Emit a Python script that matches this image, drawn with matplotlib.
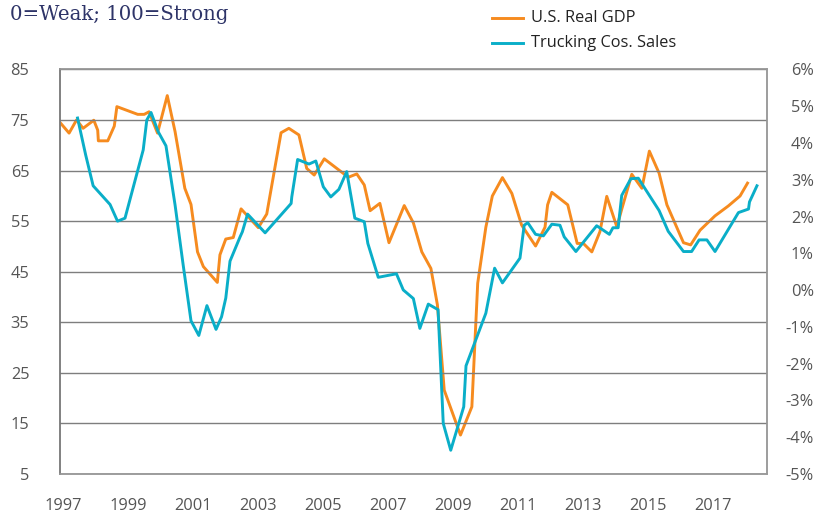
import matplotlib.pyplot as plt
from matplotlib.ticker import FuncFormatter

# U.S. real GDP, y/y % (right axis)
gdp_dates = [1996.91, 1997.19, 1997.42, 1997.62, 1997.95, 1998.07, 1998.09, 1998.38, 1998.58, 1998.66,
             1999.30, 1999.50, 1999.65, 1999.91, 2000.21, 2000.45, 2000.75, 2000.94, 2001.14, 2001.32,
             2001.75, 2001.83, 2002.01, 2002.24, 2002.48, 2002.75, 2003.01, 2003.27, 2003.71, 2003.95,
             2004.26, 2004.50, 2004.73, 2005.04, 2005.78, 2006.04, 2006.27, 2006.45, 2006.75, 2007.03,
             2007.50, 2007.78, 2008.04, 2008.32, 2008.52, 2008.73, 2009.23, 2009.58, 2009.76, 2010.01,
             2010.21, 2010.52, 2010.81, 2011.11, 2011.54, 2011.83, 2011.91, 2012.04, 2012.53, 2012.82,
             2013.01, 2013.27, 2013.52, 2013.73, 2014.04, 2014.19, 2014.50, 2014.81, 2015.04, 2015.34,
             2015.58, 2016.09, 2016.31, 2016.60, 2017.06, 2017.47, 2017.83, 2018.06]
gdp = [4.56, 4.27, 4.63, 4.40, 4.62, 4.35, 4.06, 4.06, 4.46, 4.99,
       4.78, 4.78, 4.85, 4.27, 5.29, 4.31, 2.77, 2.33, 1.04, 0.64,
       0.21, 0.96, 1.39, 1.43, 2.21, 1.95, 1.70, 2.07, 4.28, 4.40,
       4.22, 3.31, 3.13, 3.57, 3.07, 3.16, 2.86, 2.16, 2.36, 1.29,
       2.30, 1.83, 1.04, 0.59, -0.40, -2.72, -3.94, -3.17, 0.19, 1.71,
       2.56, 3.06, 2.63, 1.77, 1.20, 1.71, 2.32, 2.66, 2.32, 1.27,
       1.27, 1.04, 1.59, 2.55, 1.72, 2.20, 3.15, 2.77, 3.78, 3.18,
       2.32, 1.29, 1.23, 1.63, 2.02, 2.29, 2.56, 2.91]

# trucking companies' sales index, 0=weak 100=strong (left axis)
truck_dates = [1997.45, 1997.70, 1997.93, 1998.45, 1998.68, 1998.91, 1999.47, 1999.58, 1999.71, 1999.93,
               2000.17, 2000.45, 2000.70, 2000.94, 2001.18, 2001.43, 2001.71, 2001.88, 2002.01, 2002.14,
               2002.45, 2002.52, 2002.68, 2003.22, 2004.02, 2004.04, 2004.22, 2004.57, 2004.78, 2005.01,
               2005.24, 2005.49, 2005.73, 2005.98, 2006.27, 2006.38, 2006.70, 2007.26, 2007.47, 2007.78,
               2007.98, 2008.24, 2008.54, 2008.70, 2008.93, 2009.33, 2009.40, 2010.01, 2010.28, 2010.52,
               2011.06, 2011.19, 2011.30, 2011.54, 2011.78, 2012.04, 2012.29, 2012.42, 2012.78, 2013.42,
               2013.81, 2013.92, 2014.08, 2014.19, 2014.47, 2014.70, 2015.34, 2015.62, 2016.09, 2016.34,
               2016.57, 2016.81, 2017.06, 2017.78, 2018.09, 2018.12, 2018.35]
truck = [75.4, 68.1, 62.0, 58.3, 55.0, 55.6, 69.1, 75.0, 76.5, 72.7,
         69.9, 58.2, 46.3, 35.3, 32.4, 38.3, 33.6, 36.1, 39.8, 47.1,
         51.9, 52.9, 56.4, 52.7, 58.5, 59.8, 67.2, 66.3, 66.9, 61.8,
         59.8, 61.3, 64.8, 55.6, 54.9, 50.6, 43.9, 44.6, 41.4, 39.7,
         33.8, 38.6, 37.5, 15.0, 9.7, 18.3, 26.4, 36.8, 45.7, 42.8,
         47.7, 54.2, 54.7, 52.4, 52.1, 54.4, 54.2, 51.9, 49.0, 54.1,
         52.4, 53.7, 53.7, 60.1, 63.4, 63.5, 57.1, 53.0, 49.0, 49.0,
         51.3, 51.3, 49.0, 56.7, 57.4, 58.8, 62.0]

left_ticks = [5, 15, 25, 35, 45, 55, 65, 75, 85]
right_ticks = [-5, -4, -3, -2, -1, 0, 1, 2, 3, 4, 5, 6]
year_ticks = [1997, 1999, 2001, 2003, 2005, 2007, 2009, 2011, 2013, 2015, 2017]

orange = '#f68b1f'
teal = '#0aaec8'
tick_col = '#555555'
font = 'Open Sans'
fs = 11.8

fig = plt.figure(figsize=(8.23, 5.14), dpi=100)
ax = fig.add_axes([0.0729, 0.0778, 0.8587, 0.787])
ax2 = ax.twinx()

ax.plot(truck_dates, truck, color=teal, lw=2.1, zorder=3)
ax2.plot(gdp_dates, gdp, color=orange, lw=2.1, zorder=2)
ax.set_zorder(ax2.get_zorder() + 1)
ax.patch.set_visible(False)

ax.set_xlim(1996.91, 2018.65)
ax.set_ylim(5, 85)
ax2.set_ylim(-5, 6)
ax.set_yticks(left_ticks)
ax2.set_yticks(right_ticks)
ax.set_xticks(year_ticks)
ax2.yaxis.set_major_formatter(FuncFormatter(lambda v, p: f'{v:.0f}%'))

ax.grid(axis='y', color='#7e7e7e', lw=1.0)
ax.set_axisbelow(True)

for a in (ax, ax2):
    for s in a.spines.values():
        s.set_color('#9a9a9a')
        s.set_linewidth(1.1)
ax.spines['left'].set_color('#777777')

ax.tick_params(axis='y', length=0, pad=22, labelsize=fs, labelcolor=tick_col)
ax.tick_params(axis='x', length=0, pad=17, labelsize=fs, labelcolor=tick_col)
ax2.tick_params(axis='y', length=0, pad=34, labelsize=fs, labelcolor=tick_col)
for lab in ax.get_xticklabels() + ax.get_yticklabels() + ax2.get_yticklabels():
    lab.set_fontfamily(font)
for lab in ax2.get_yticklabels():
    lab.set_horizontalalignment('right')

fig.text(0.012, 0.972, '0=Weak; 100=Strong', fontsize=14.2, color='#2e3468',
         family='DejaVu Serif', va='center', ha='left')

# legend drawn by hand above the plot
fig.lines.append(plt.Line2D([0.598, 0.636], [0.965, 0.965], color=orange, lw=2.1, transform=fig.transFigure))
fig.lines.append(plt.Line2D([0.598, 0.636], [0.916, 0.916], color=teal, lw=2.1, transform=fig.transFigure))
fig.text(0.645, 0.965, 'U.S. Real GDP', fontsize=fs, color='#222222', family=font, va='center')
fig.text(0.645, 0.916, 'Trucking Cos. Sales', fontsize=fs, color='#222222', family=font, va='center')

fig.savefig('out.png', dpi=100)
